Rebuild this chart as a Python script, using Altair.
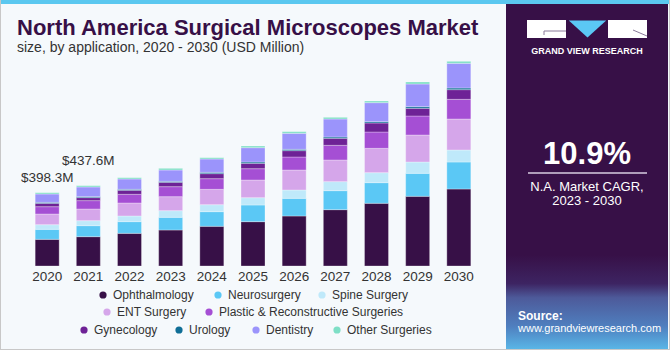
import altair as alt
import pandas as pd

# ---------------- data ----------------
years = [2020, 2021, 2022, 2023, 2024, 2025, 2026, 2027, 2028, 2029, 2030]
categories = ["Ophthalmology", "Neurosurgery", "Spine Surgery", "ENT Surgery",
              "Plastic & Reconstructive Surgeries", "Gynecology", "Urology",
              "Dentistry", "Other Surgeries"]
ophthalmology = [144.8, 159.3, 177.4, 195.5, 215.4, 240.7, 271.5, 305.9, 340.3, 378.3, 418.1]
neurosurgery = [54.3, 59.7, 63.4, 68.8, 79.6, 90.5, 95.9, 103.2, 112.2, 124.9, 146.6]
spine_surgery = [25.3, 27.2, 30.8, 36.2, 38.0, 39.8, 45.3, 48.9, 54.3, 61.5, 65.2]
ent_surgery = [57.9, 63.4, 70.6, 76.0, 83.3, 95.9, 108.6, 117.7, 132.1, 146.6, 168.3]
plastic = [39.8, 45.3, 47.1, 54.3, 57.9, 61.5, 70.6, 79.6, 88.7, 103.2, 106.8]
gynecology = [18.1, 16.3, 21.7, 23.5, 27.2, 29.0, 34.4, 38.0, 48.9, 41.6, 52.5]
urology = [5.4, 5.4, 5.4, 5.4, 7.2, 7.2, 7.2, 7.2, 7.2, 9.1, 9.1]
dentistry = [45.3, 52.5, 56.1, 61.5, 72.4, 77.8, 86.9, 97.7, 103.2, 123.1, 133.9]
other_surgeries = [7.2, 7.2, 7.2, 9.1, 7.2, 9.1, 9.1, 9.1, 9.1, 10.9, 10.9]
series = [ophthalmology, neurosurgery, spine_surgery, ent_surgery, plastic,
          gynecology, urology, dentistry, other_surgeries]
colors = ["#371047", "#5bc8f5", "#bfe9fa", "#d5a6ea", "#a54fd4",
          "#6e2296", "#0f6e96", "#9b94fb", "#7edfc6"]

label_years = [2020, 2021]
label_texts = ["$398.3M", "$437.6M"]

title_text = "North America Surgical Microscopes Market"
subtitle_text = "size, by application, 2020 - 2030 (USD Million)"
cagr_text = "10.9%"
cagr_lines = ["N.A. Market CAGR,", "2023 - 2030"]

# ---------------- tables ----------------
rows = []
for i, (cat, vals) in enumerate(zip(categories, series)):
    for y, v in zip(years, vals):
        rows.append({"year": y, "category": cat, "value": v, "idx": i})
df = pd.DataFrame(rows)
totals = df.groupby("year")["value"].sum()
year_df = pd.DataFrame({"year": years})
one = pd.DataFrame({"a": [0]})

FONT = "Liberation Sans"
xs = alt.Scale(domain=[2019, 2031], range=[1, 505])
ys = alt.Scale(domain=[0, 1200], range=[266, 45], nice=False)

def rect(x, x2, y, y2, color, **kw):
    return alt.Chart(one).mark_rect(color=color, **kw).encode(
        x=alt.value(x), x2=alt.value(x2), y=alt.value(y), y2=alt.value(y2))

def rule(x, x2, y, y2, color, w=1):
    return alt.Chart(one).mark_rule(color=color, strokeWidth=w).encode(
        x=alt.value(x), x2=alt.value(x2), y=alt.value(y), y2=alt.value(y2))

def text(t, x, y, size, color="#333333", align="left", bold=False, **kw):
    return alt.Chart(pd.DataFrame({"t": [t]})).mark_text(
        font=FONT, fontSize=size, color=color, align=align, baseline="middle",
        fontWeight="bold" if bold else "normal", **kw).encode(
        x=alt.value(x), y=alt.value(y), text="t:N")

bars = alt.Chart(df).mark_bar(size=24, stroke="#ffffff", strokeWidth=0.6,
                              strokeOpacity=0.5).encode(
    x=alt.X("year:Q", scale=xs, axis=None),
    y=alt.Y("value:Q", stack="zero", scale=ys, axis=None),
    color=alt.Color("category:N", scale=alt.Scale(domain=categories, range=colors),
                    legend=None),
    order=alt.Order("idx:Q", sort="ascending"),
)

year_labels = alt.Chart(year_df).mark_text(
    font=FONT, fontSize=13.5, color="#333333", baseline="middle").encode(
    x=alt.X("year:Q", scale=xs, axis=None),
    y=alt.value(277),
    text=alt.Text("year:Q", format="d"))

label_offsets = [-15, -25]
value_labels = []
for yr, lab, off in zip(label_years, label_texts, label_offsets):
    d = pd.DataFrame({"year": [yr], "label": [lab], "total": [totals[yr]]})
    value_labels.append(alt.Chart(d).mark_text(
        font=FONT, fontSize=13.5, color="#333333", baseline="middle", dy=off).encode(
        x=alt.X("year:Q", scale=xs, axis=None),
        y=alt.Y("total:Q", scale=ys, axis=None),
        text="label:N"))

# legend layout (pixel positions of dot per item)
legend_pos = [(103, 295), (218, 295), (322, 295),
              (107, 312), (209, 312),
              (84, 330), (179, 330), (256, 330), (337, 330)]
legend_layers = []
for cat, col, (lx, ly) in zip(categories, colors, legend_pos):
    legend_layers.append(alt.Chart(one).mark_circle(size=52, opacity=1, color=col).encode(
        x=alt.value(lx), y=alt.value(ly)))
    legend_layers.append(text(cat, lx + 10, ly, 12))

# right panel
panel = rect(506, 668, 0, 350, "#371047")
grad = alt.Chart(one).mark_rect(color=alt.LinearGradient(
    gradient="linear", x1=0, x2=0, y1=0, y2=1,
    stops=[alt.GradientStop(color="#371047", offset=0),
           alt.GradientStop(color="#3d2462", offset=0.3),
           alt.GradientStop(color="#4d5a9a", offset=0.45),
           alt.GradientStop(color="#4f7fbf", offset=0.75),
           alt.GradientStop(color="#5ab8e8", offset=1)])).encode(
    x=alt.value(506), x2=alt.value(668), y=alt.value(255), y2=alt.value(350))

logo = [
    rect(527, 566, 20, 38, "#ffffff"),
    rule(544, 566, 31, 31, "#8a7a9a", 1),
    rule(544, 544, 31, 35, "#8a7a9a", 1),
    alt.Chart(one).mark_point(shape="M-1,-0.45L1,-0.45L0,0.45Z", filled=True,
                              size=1400, color="#5bc8f5", opacity=1).encode(
        x=alt.value(587.5), y=alt.value(29)),
    rect(608, 647, 20, 38, "#ffffff"),
    rule(633, 647, 30, 36, "#8a7a9a", 1),
    text("GRAND VIEW RESEARCH", 587, 51, 9, "#ffffff", "center", True),
]

side = [
    text(cagr_text, 587, 155, 31, "#ffffff", "center", True),
    rule(528, 647, 173, 173, "#d8cce0", 1.5),
    text(cagr_lines[0], 587, 187, 13, "#ffffff", "center"),
    text(cagr_lines[1], 587, 201, 13, "#ffffff", "center"),
    text("Source:", 518, 316, 12, "#ffffff", "left", True),
    text("www.grandviewresearch.com", 518, 329, 11, "#ffffff", "left"),
]

frame = [
    rect(0, 670, 0, 4, "#5bc8f0"),
    rule(0.5, 0.5, 0, 350, "#c8c8c8", 1),
    rule(0, 670, 349.5, 349.5, "#c8c8c8", 1),
    rule(669.5, 669.5, 0, 350, "#c8c8c8", 1),
]

titles = [
    text(title_text, 17, 28, 22, "#371047", "left", True),
    text(subtitle_text, 17, 48, 14, "#333333", "left"),
]

chart = alt.layer(
    panel, grad, *frame, bars, year_labels, *value_labels, *legend_layers,
    *logo, *side, *titles
).properties(
    width=670, height=350,
    autosize=alt.AutoSizeParams(type="none"),
    padding=0,
    background="#f5f9fc",
).configure_view(stroke=None)

chart.save("out.html", embed_options={"renderer": "svg", "actions": False})
